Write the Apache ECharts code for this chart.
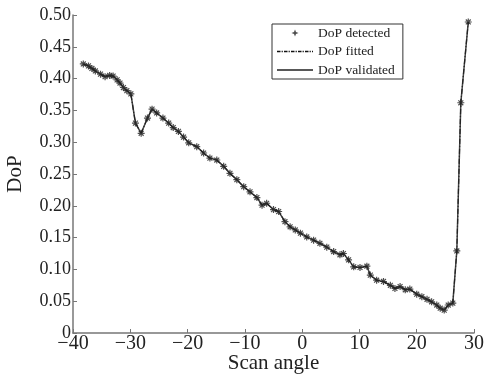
<!DOCTYPE html>
<html><head><meta charset="utf-8">
<script src="https://cdn.jsdelivr.net/npm/echarts@6/dist/echarts.min.js"></script>
<style>html,body{margin:0;padding:0;background:#fff}#c{width:488px;height:376px}</style>
</head><body><div id="c"></div>
<script>
const scanAngle = [-38.2,-37.3,-36.7,-36.1,-35.2,-34.4,-33.6,-33.0,-32.3,-31.8,-31.2,-30.6,-29.9,-29.1,-28.1,-27.0,-26.2,-25.4,-24.3,-23.3,-22.5,-21.6,-20.7,-19.8,-18.4,-17.2,-16.1,-14.9,-13.7,-12.6,-11.4,-10.2,-9.1,-7.9,-7.0,-6.2,-5.0,-4.1,-3.0,-2.1,-1.2,-0.3,0.8,2.0,3.1,4.3,5.5,6.6,7.2,8.1,9.0,10.1,11.3,11.9,13.0,14.2,15.4,16.2,17.1,18.0,18.8,20.0,20.9,21.8,22.6,23.5,24.1,24.8,25.5,26.3,27.0,27.7,29.0];
const dopDetected = [0.423,0.420,0.416,0.412,0.407,0.403,0.405,0.404,0.398,0.393,0.386,0.381,0.376,0.330,0.314,0.338,0.352,0.346,0.338,0.330,0.323,0.317,0.308,0.299,0.293,0.283,0.275,0.272,0.262,0.251,0.241,0.230,0.222,0.213,0.201,0.204,0.194,0.191,0.175,0.167,0.162,0.157,0.151,0.146,0.141,0.135,0.128,0.123,0.125,0.115,0.104,0.103,0.105,0.091,0.083,0.081,0.075,0.070,0.073,0.068,0.069,0.061,0.057,0.053,0.049,0.044,0.039,0.036,0.044,0.047,0.129,0.362,0.489];
const dopFitted = dopDetected.slice();
const dopValidated = dopDetected.slice();
const xTicks = [-40,-30,-20,-10,0,10,20,30];
const yTicks = [0,0.05,0.10,0.15,0.20,0.25,0.30,0.35,0.40,0.45,0.50];
const seriesNames = ['DoP detected','DoP fitted','DoP validated'];

const pair = arr => scanAngle.map((x,i)=>[x,arr[i]]);
const serif = 'Liberation Serif, Times New Roman, serif';
const star = 'path://M0,-5L0,5M-5,0L5,0M-3.5,-3.5L3.5,3.5M-3.5,3.5L3.5,-3.5';
// legend icons (bounding specks keep the 36x12 box)
const bounds = 'M0,0L0.01,0L0.01,0.01Z M36,12L35.99,12L35.99,11.99Z ';
const solidIcon = 'path://' + bounds + 'M0,5.2L36,5.2L36,6.8L0,6.8Z';
let dd = '';
for (let x = 0; x < 36; x += 7) {
  const e = Math.min(x+3.5,36);
  dd += 'M'+x+',5.2L'+e+',5.2L'+e+',6.8L'+x+',6.8Z ';
  if (x+5.6 <= 36) dd += 'M'+(x+4.6)+',5.2L'+(x+5.8)+',5.2L'+(x+5.8)+',6.8L'+(x+4.6)+',6.8Z ';
}
const dashDotIcon = 'path://' + bounds + dd;
const starIcon = 'path://' + bounds + 'M18,2.5L19,5L21.5,6L19,7L18,9.5L17,7L14.5,6L17,5Z';

const chart = echarts.init(document.getElementById('c'));
chart.setOption({
  animation:false,
  backgroundColor:'#fff',
  grid:{left:73,right:14,top:15,bottom:43,outerBoundsMode:'none'},
  legend:{
    orient:'vertical', left:272, top:24,
    borderColor:'#333', borderWidth:1, padding:[2,8,2,5], itemGap:4.5,
    itemWidth:36, itemHeight:12,
    textStyle:{fontFamily:serif,fontSize:13.5,color:'#222'},
    data:[
      {name:seriesNames[0],icon:starIcon,itemStyle:{color:'#222',borderWidth:0}},
      {name:seriesNames[1],icon:dashDotIcon,itemStyle:{color:'#111'}},
      {name:seriesNames[2],icon:solidIcon,itemStyle:{color:'#222'}}
    ]
  },
  xAxis:{
    type:'value', min:-40, max:30, interval:10,
    name:'Scan angle', nameLocation:'middle', nameGap:20, nameMoveOverlap:false,
    nameTextStyle:{fontFamily:serif,fontSize:21,color:'#222',verticalAlign:'top'},
    axisLine:{onZero:false,lineStyle:{color:'#777',width:1.5}},
    axisTick:{inside:true,length:4,lineStyle:{color:'#777'}},
    splitLine:{show:false},
    axisLabel:{fontFamily:serif,fontSize:20,color:'#222',margin:1,
      formatter:v=>xTicks.includes(v)?(v<0?'\u2212'+Math.abs(v):String(v)):''}
  },
  yAxis:{
    type:'value', min:0, max:0.5, interval:0.05,
    name:'DoP', nameLocation:'middle', nameGap:47, nameMoveOverlap:false,
    nameTextStyle:{fontFamily:serif,fontSize:21,color:'#222'},
    axisLine:{show:true,onZero:false,lineStyle:{color:'#777',width:1.5}},
    axisTick:{show:true,inside:true,length:4,lineStyle:{color:'#777'}},
    splitLine:{show:false},
    axisLabel:{fontFamily:serif,fontSize:18,color:'#222',margin:2,
      formatter:v=>{const t=yTicks.find(k=>Math.abs(k-v)<1e-9);return t===undefined?'':(t===0?'0':t.toFixed(2));}}
  },
  series:[
    {name:seriesNames[2],type:'line',data:pair(dopValidated),showSymbol:false,symbol:'none',
      lineStyle:{color:'#444',width:1.5},itemStyle:{color:'#444'},z:2},
    {name:seriesNames[1],type:'line',data:pair(dopFitted),showSymbol:false,symbol:'none',
      lineStyle:{color:'#222',width:1.2,type:[5,2,1,2]},itemStyle:{color:'#222'},z:3},
    {name:seriesNames[0],type:'scatter',data:pair(dopDetected),symbol:star,symbolSize:7,
      itemStyle:{color:'none',borderColor:'#222',borderWidth:1.2},z:4}
  ]
});
</script></body></html>
